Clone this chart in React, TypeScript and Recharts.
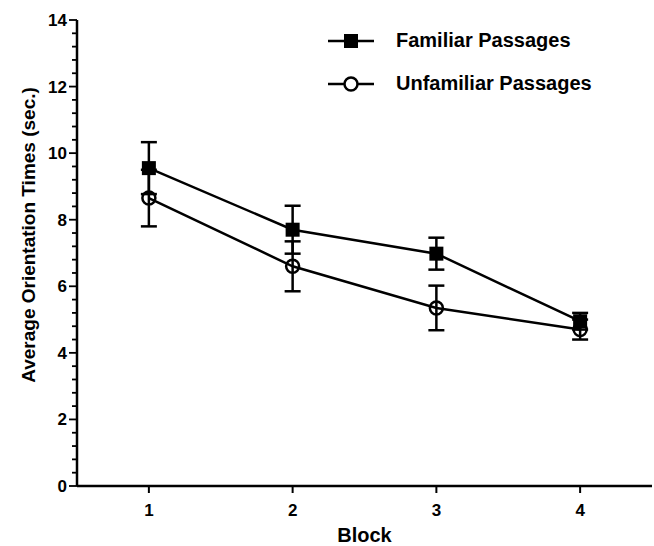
import { ErrorBar, Line, LineChart, XAxis, YAxis } from 'recharts';

const blocks = [1, 2, 3, 4];
const familiar = [9.55, 7.7, 6.98, 4.95];
const familiarErr = [0.78, 0.72, 0.48, 0.25];
const unfamiliar = [8.65, 6.6, 5.35, 4.7];
const unfamiliarErr = [0.85, 0.75, 0.67, 0.3];
const yMajorTicks = [0, 2, 4, 6, 8, 10, 12, 14];
const xTicks = [1, 2, 3, 4];
const seriesNames = ['Familiar Passages', 'Unfamiliar Passages'];

const data = blocks.map((b, i) => ({
  block: b,
  fam: familiar[i],
  famErr: familiarErr[i],
  unfam: unfamiliar[i],
  unfamErr: unfamiliarErr[i],
}));

// minor ticks every 0.4 between the labelled ones
const yTicks: number[] = [];
yMajorTicks.forEach((t, i) => {
  yTicks.push(t);
  if (i < yMajorTicks.length - 1) {
    for (let k = 1; k < 5; k++) yTicks.push(Math.round((t + k * 0.4) * 10) / 10);
  }
});

const FONT = '"Liberation Sans", Arial, Helvetica, sans-serif';
const TICK_SIZE = 8;
const TICK_MARGIN = 2;

const SquareDot = (props: any) => {
  const { cx, cy } = props;
  if (cx == null || cy == null) return null;
  return <rect x={cx - 7} y={cy - 7} width={14} height={14} fill="#000" />;
};

const CircleDot = (props: any) => {
  const { cx, cy } = props;
  if (cx == null || cy == null) return null;
  return <circle cx={cx} cy={cy} r={6.5} fill="none" stroke="#000" strokeWidth={2.5} />;
};

const YTick = (props: any) => {
  const { x, y, payload } = props;
  const ax = x + TICK_SIZE + TICK_MARGIN;
  const v = payload.value;
  const major = Number.isInteger(v / 2);
  return (
    <g>
      <line x1={ax - (major ? 8 : 5)} x2={ax} y1={y} y2={y} stroke="#000" strokeWidth={1.8} />
      {major && (
        <text
          x={ax - 10}
          y={y}
          dy={6}
          textAnchor="end"
          fontFamily={FONT}
          fontWeight="bold"
          fontSize={17}
          fill="#000"
        >
          {v}
        </text>
      )}
    </g>
  );
};

const YLabel = (props: any) => {
  const vb = props.viewBox;
  const cx = vb.x + 28;
  const cy = vb.y + vb.height / 2 - 18;
  return (
    <text
      x={cx}
      y={cy}
      transform={`rotate(-90, ${cx}, ${cy})`}
      textAnchor="middle"
      dominantBaseline="central"
      fontFamily={FONT}
      fontWeight="bold"
      fontSize={19}
      fill="#000"
    >
      Average Orientation Times (sec.)
    </text>
  );
};

const XLabel = (props: any) => {
  const vb = props.viewBox;
  return (
    <text
      x={vb.x + vb.width / 2}
      y={vb.y + 56}
      textAnchor="middle"
      fontFamily={FONT}
      fontWeight="bold"
      fontSize={20}
      fill="#000"
    >
      Block
    </text>
  );
};

const ChartLegend = () => (
  <div
    style={{
      position: 'absolute',
      left: 326,
      top: 19,
      fontFamily: FONT,
      fontWeight: 'bold',
      fontSize: 20,
      color: '#000',
    }}
  >
    {seriesNames.map((name, i) => (
      <div key={name} style={{ display: 'flex', alignItems: 'center', height: 43 }}>
        <svg width={50} height={20} style={{ marginRight: 20 }}>
          <line x1={2} x2={48} y1={10} y2={10} stroke="#000" strokeWidth={2.5} />
          {i === 0 ? (
            <rect x={18} y={3} width={14} height={14} fill="#000" />
          ) : (
            <circle cx={25} cy={10} r={6.5} fill="#fff" stroke="#000" strokeWidth={2.5} />
          )}
        </svg>
        <span>{name}</span>
      </div>
    ))}
  </div>
);

export default function App() {
  return (
    <div style={{ position: 'absolute', left: 0, top: 0, width: 654, height: 546, background: '#fff' }}>
      <LineChart
        width={654}
        height={546}
        data={data}
        margin={{ top: 20, right: 2, left: 0, bottom: 0 }}
      >
        <XAxis
          dataKey="block"
          type="number"
          domain={[0.5, 4.5]}
          ticks={xTicks}
          height={60}
          tickSize={7}
          tickMargin={11}
          axisLine={{ stroke: '#000', strokeWidth: 2.5 }}
          tickLine={{ stroke: '#000', strokeWidth: 2 }}
          tick={{ fill: '#000', fontFamily: FONT, fontWeight: 'bold', fontSize: 17 }}
          label={<XLabel />}
        />
        <YAxis
          type="number"
          domain={[0, 14]}
          ticks={yTicks}
          interval={0}
          width={77}
          tickSize={TICK_SIZE}
          tickMargin={TICK_MARGIN}
          tickLine={false}
          axisLine={{ stroke: '#000', strokeWidth: 2.5 }}
          tick={<YTick />}
          label={<YLabel />}
        />
        <Line
          dataKey="fam"
          name={seriesNames[0]}
          type="linear"
          stroke="#000"
          strokeWidth={2.5}
          dot={<SquareDot />}
          activeDot={false}
          isAnimationActive={false}
        >
          <ErrorBar dataKey="famErr" direction="y" width={8} stroke="#000" strokeWidth={2.5} />
        </Line>
        <Line
          dataKey="unfam"
          name={seriesNames[1]}
          type="linear"
          stroke="#000"
          strokeWidth={2.5}
          dot={<CircleDot />}
          activeDot={false}
          isAnimationActive={false}
        >
          <ErrorBar dataKey="unfamErr" direction="y" width={8} stroke="#000" strokeWidth={2.5} />
        </Line>
      </LineChart>
      <ChartLegend />
    </div>
  );
}
